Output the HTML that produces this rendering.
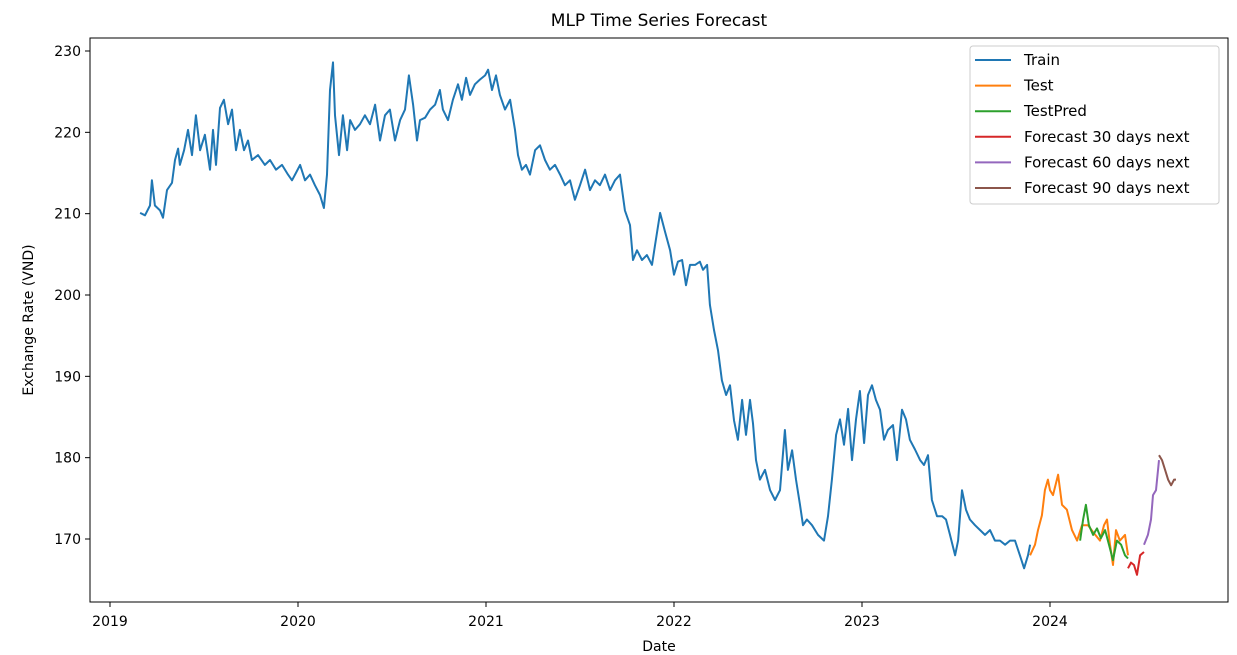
<!DOCTYPE html>
<html><head><meta charset="utf-8"><style>
html,body{margin:0;padding:0;background:#fff;}
svg{display:block;font-family:"DejaVu Sans","Liberation Sans",sans-serif;}
</style></head><body>
<svg id="chart" width="1237" height="655" viewBox="0 0 1237 655" xmlns="http://www.w3.org/2000/svg"></svg>
<script>
// Years since 2019 and values (VND)
const trainT=[.160,.186,.213,.223,.239,.266,.282,.303,.330,.346,.362,.372,.394,.415,.436,.457,.479,.505,.532,.548,.564,.585,.606,.628,.649,.670,.691,.713,.734,.755,.787,.824,.851,.883,.915,.947,.968,.989,1.011,1.037,1.064,1.090,1.117,1.138,1.154,1.170,1.186,1.197,1.218,1.239,1.261,1.277,1.303,1.330,1.356,1.383,1.410,1.436,1.463,1.489,1.516,1.543,1.569,1.590,1.612,1.633,1.649,1.676,1.702,1.729,1.755,1.771,1.798,1.824,1.851,1.872,1.894,1.915,1.941,1.968,1.995,2.011,2.032,2.053,2.074,2.101,2.128,2.154,2.170,2.191,2.213,2.234,2.261,2.287,2.314,2.340,2.367,2.394,2.420,2.447,2.473,2.500,2.527,2.553,2.580,2.606,2.633,2.660,2.686,2.713,2.739,2.766,2.782,2.803,2.830,2.856,2.883,2.899,2.926,2.952,2.979,3.000,3.021,3.043,3.064,3.085,3.112,3.138,3.154,3.176,3.191,3.213,3.234,3.255,3.277,3.298,3.319,3.340,3.362,3.383,3.404,3.420,3.436,3.457,3.484,3.511,3.537,3.564,3.590,3.606,3.628,3.649,3.670,3.686,3.707,3.734,3.766,3.798,3.819,3.840,3.862,3.883,3.904,3.926,3.947,3.968,3.989,4.011,4.032,4.053,4.074,4.096,4.117,4.138,4.165,4.186,4.213,4.234,4.255,4.282,4.309,4.330,4.351,4.372,4.399,4.426,4.447,4.468,4.495,4.511,4.532,4.553,4.574,4.601,4.628,4.654,4.681,4.707,4.734,4.761,4.787,4.814,4.840,4.862,4.883,4.894];
const trainV=[210.1,209.8,211,214.1,211,210.4,209.5,212.9,213.8,216.6,218,216,217.8,220.3,217.2,222.1,217.8,219.7,215.4,220.3,216,223,224,221,222.8,217.8,220.3,217.8,219,216.6,217.2,216,216.6,215.4,216,214.8,214.1,215,216,214.1,214.8,213.5,212.3,210.7,214.8,225.2,228.6,222.1,217.2,222.1,217.8,221.5,220.3,221,222.1,221,223.4,219,222.1,222.8,219,221.5,222.8,227,223.4,219,221.5,221.8,222.8,223.4,225.2,222.8,221.5,224,225.9,224,226.7,224.6,225.9,226.5,227,227.7,225.2,227,224.6,222.8,224,220.3,217.2,215.4,216,214.8,217.8,218.4,216.6,215.4,216,214.8,213.5,214.1,211.7,213.5,215.4,212.9,214.1,213.5,214.8,212.9,214.1,214.8,210.4,208.6,204.3,205.5,204.3,204.9,203.7,206.1,210.1,207.8,205.5,202.5,204.1,204.3,201.2,203.7,203.7,204.1,203.1,203.7,198.8,195.7,193.2,189.5,187.7,188.9,184.6,182.2,187.1,182.8,187.1,184.2,179.7,177.3,178.5,176,174.8,176,183.4,178.5,180.9,177.3,174.2,171.7,172.4,171.7,170.5,169.8,172.8,177.3,182.8,184.7,181.6,186,179.7,184.7,188.2,181.8,187.7,188.9,187.1,185.9,182.2,183.4,184,179.7,185.9,184.7,182.2,181,179.7,179.1,180.3,174.8,172.8,172.8,172.4,170.5,168,169.8,176,173.6,172.4,171.7,171.1,170.5,171.1,169.8,169.8,169.3,169.8,169.8,168,166.4,168,169.3];
const testT=[4.894,4.920,4.936,4.957,4.973,4.989,5.000,5.016,5.043,5.064,5.090,5.117,5.144,5.170,5.202,5.234,5.266,5.287,5.303,5.319,5.335,5.351,5.372,5.399,5.415];
const testV=[168,169.3,171.1,172.9,176,177.3,176,175.4,177.9,174.2,173.6,171.1,169.8,171.7,171.7,170.7,169.8,171.7,172.4,169.3,166.8,171.1,169.8,170.5,168];
const predT=[5.160,5.176,5.191,5.207,5.229,5.250,5.271,5.293,5.314,5.335,5.356,5.378,5.399,5.415];
const predV=[169.8,172.4,174.2,171.7,170.5,171.3,170.1,171.1,169.3,167.4,169.8,169.3,168,167.6];
const f30T=[5.415,5.431,5.447,5.463,5.479,5.500];
const f30V=[166.4,167.1,166.8,165.6,168,168.4];
const f60T=[5.500,5.521,5.537,5.548,5.564,5.580];
const f60V=[169.3,170.5,172.4,175.4,176,179.7];
const f90T=[5.580,5.596,5.612,5.628,5.644,5.660,5.670];
const f90V=[180.3,179.7,178.5,177.3,176.6,177.3,177.3];
const yTicks=[170,180,190,200,210,220,230];
const xTicks=[2019,2020,2021,2022,2023,2024];
const seriesNames=["Train","Test","TestPred","Forecast 30 days next","Forecast 60 days next","Forecast 90 days next"];

const NS="http://www.w3.org/2000/svg";
const svg=document.getElementById('chart');
const L=90,R=1228,T=38,B=602;
const xs=y=>110+(y-2019)*188;
const ys=v=>539-(v-170)*(488/60);
function mk(tag,attrs,parent){const e=document.createElementNS(NS,tag);for(const k in attrs)e.setAttribute(k,attrs[k]);(parent||svg).appendChild(e);return e;}

const title=mk('text',{x:(L+R)/2,y:26,'text-anchor':'middle','font-size':'17',fill:'#000'});
title.textContent='MLP Time Series Forecast';



const series=[[trainT,trainV,'#1f77b4'],[testT,testV,'#ff7f0e'],[predT,predV,'#2ca02c'],[f30T,f30V,'#d62728'],[f60T,f60V,'#9467bd'],[f90T,f90V,'#8c564b']];
const slugs=['train','test','test-pred','forecast-30','forecast-60','forecast-90'];
series.forEach((s,i)=>{
  const d=s[0].map((t,j)=>(j?'L':'M')+xs(2019+t).toFixed(1)+' '+ys(s[1][j]).toFixed(1)).join(' ');
  const p=mk('path',{d:d,fill:'none',stroke:s[2],'stroke-width':'2','stroke-linejoin':'round'});
  
  
});

const frame=mk('rect',{x:L,y:T,width:R-L,height:B-T,fill:'none',stroke:'#000','stroke-width':'1'});



yTicks.forEach(v=>{
  const y=ys(v);
  mk('line',{x1:L-5,x2:L,y1:y,y2:y,stroke:'#000'});
  const t=mk('text',{x:L-9,y:y+5,'text-anchor':'end','font-size':'14',fill:'#000'});
  t.textContent=v;
  
  
});
xTicks.forEach(v=>{
  const x=xs(v);
  mk('line',{x1:x,x2:x,y1:B,y2:B+5,stroke:'#000'});
  const t=mk('text',{x:x,y:B+24,'text-anchor':'middle','font-size':'14',fill:'#000'});
  t.textContent=v;
  
  
});
const xl=mk('text',{x:(L+R)/2,y:651,'text-anchor':'middle','font-size':'14',fill:'#000'});
xl.textContent='Date';


const yl=mk('text',{x:0,y:0,transform:'translate(33,'+((T+B)/2)+') rotate(-90)','text-anchor':'middle','font-size':'14',fill:'#000'});
yl.textContent='Exchange Rate (VND)';



const lg=mk('g',{});


mk('rect',{x:970,y:46,width:249,height:158,rx:3,fill:'#fff','fill-opacity':'0.8',stroke:'#ccc'},lg);
seriesNames.forEach((n,i)=>{
  const y=60+i*25.6;
  const g=mk('g',{},lg);
  
  
  mk('line',{x1:975,x2:1011,y1:y,y2:y,stroke:series[i][2],'stroke-width':'2'},g);
  const t=mk('text',{x:1024,y:y+5,'font-size':'15',fill:'#000'},g);
  t.textContent=n;
});
</script>
</body></html>
